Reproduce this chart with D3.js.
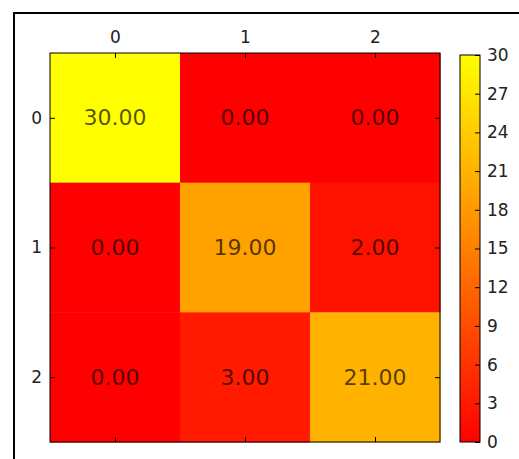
<!DOCTYPE html>
<html>
<head>
<meta charset="utf-8">
<script src="https://cdn.jsdelivr.net/npm/d3@7"></script>
<style>
  html, body { margin: 0; padding: 0; background: #fff; }
  svg { display: block; }
  text { font-family: "DejaVu Sans", sans-serif; }
</style>
</head>
<body>
<svg id="chart" width="519" height="459"></svg>
<script>
// Confusion matrix values (rows = actual, columns = predicted)
const labels = [0, 1, 2];
const matrix = [
  [30, 0, 0],
  [0, 19, 2],
  [0, 3, 21]
];
const colorbarTicks = [0, 3, 6, 9, 12, 15, 18, 21, 24, 27, 30];
const vmin = 0, vmax = 30;

const svg = d3.select("#chart");

// outer frame (only left and top edges fall inside the canvas)
svg.append("rect")
  .attr("x", 14).attr("y", 13)
  .attr("width", 700).attr("height", 700)
  .attr("fill", "none").attr("stroke", "#000").attr("stroke-width", 2);

const plot = { left: 50, top: 53, right: 440, bottom: 442 };

const x = d3.scaleBand().domain(labels).range([plot.left, plot.right]);
const y = d3.scaleBand().domain(labels).range([plot.top, plot.bottom]);

// "autumn" colormap: red -> yellow
const color = d3.scaleLinear().domain([vmin, vmax]).range(["#ff0000", "#ffff00"]);

const cells = [];
matrix.forEach((row, i) => row.forEach((v, j) => cells.push({ i, j, v })));

svg.append("g").selectAll("rect")
  .data(cells).join("rect")
  .attr("x", d => x(d.j))
  .attr("y", d => y(d.i))
  .attr("width", x.bandwidth() + 0.5)
  .attr("height", y.bandwidth() + 0.5)
  .attr("fill", d => color(d.v));

svg.append("g").selectAll("text")
  .data(cells).join("text")
  .attr("x", d => x(d.j) + x.bandwidth() / 2)
  .attr("y", d => y(d.i) + y.bandwidth() / 2)
  .attr("text-anchor", "middle")
  .attr("dominant-baseline", "central")
  .attr("font-size", 22)
  .attr("fill", "#000")
  .attr("fill-opacity", 0.68)
  .text(d => d.v.toFixed(2));

// axes with inward ticks on all four sides
function styleAxis(g) {
  g.select(".domain").remove();
  g.selectAll(".tick line").attr("stroke", "#000");
  g.selectAll(".tick text").attr("font-size", 17).attr("fill", "#222")
    .attr("font-family", "DejaVu Sans, sans-serif");
}
const xc = d => x(d) + x.bandwidth() / 2;
const xPos = d3.scaleOrdinal().domain(labels).range(labels.map(xc));
const yPos = d3.scaleOrdinal().domain(labels).range(labels.map(d => y(d) + y.bandwidth() / 2));

svg.append("g").attr("transform", `translate(0,${plot.top})`)
  .call(d3.axisTop(xPos).tickSize(-5).tickPadding(10)).call(styleAxis);
svg.append("g").attr("transform", `translate(0,${plot.bottom})`)
  .call(d3.axisBottom(xPos).tickSize(-5).tickFormat("")).call(styleAxis);
svg.append("g").attr("transform", `translate(${plot.left},0)`)
  .call(d3.axisLeft(yPos).tickSize(-5).tickPadding(8)).call(styleAxis);
svg.append("g").attr("transform", `translate(${plot.right},0)`)
  .call(d3.axisRight(yPos).tickSize(-5).tickFormat("")).call(styleAxis);

svg.append("rect")
  .attr("x", plot.left).attr("y", plot.top)
  .attr("width", plot.right - plot.left).attr("height", plot.bottom - plot.top)
  .attr("fill", "none").attr("stroke", "#000").attr("stroke-width", 1);

// colorbar
const cb = { left: 460, right: 480, top: 55, bottom: 442 };
const cbScale = d3.scaleLinear().domain([vmin, vmax]).range([cb.bottom, cb.top]);

const grad = svg.append("defs").append("linearGradient")
  .attr("id", "cbgrad").attr("x1", 0).attr("y1", 1).attr("x2", 0).attr("y2", 0);
grad.append("stop").attr("offset", "0%").attr("stop-color", color(vmin));
grad.append("stop").attr("offset", "100%").attr("stop-color", color(vmax));

svg.append("rect")
  .attr("x", cb.left).attr("y", cb.top)
  .attr("width", cb.right - cb.left).attr("height", cb.bottom - cb.top)
  .attr("fill", "url(#cbgrad)");

svg.append("g").attr("transform", `translate(${cb.right},0)`)
  .call(d3.axisRight(cbScale).tickValues(colorbarTicks).tickSize(-5).tickPadding(7))
  .call(styleAxis);

svg.append("rect")
  .attr("x", cb.left).attr("y", cb.top)
  .attr("width", cb.right - cb.left).attr("height", cb.bottom - cb.top)
  .attr("fill", "none").attr("stroke", "#000").attr("stroke-width", 1);
</script>
</body>
</html>
